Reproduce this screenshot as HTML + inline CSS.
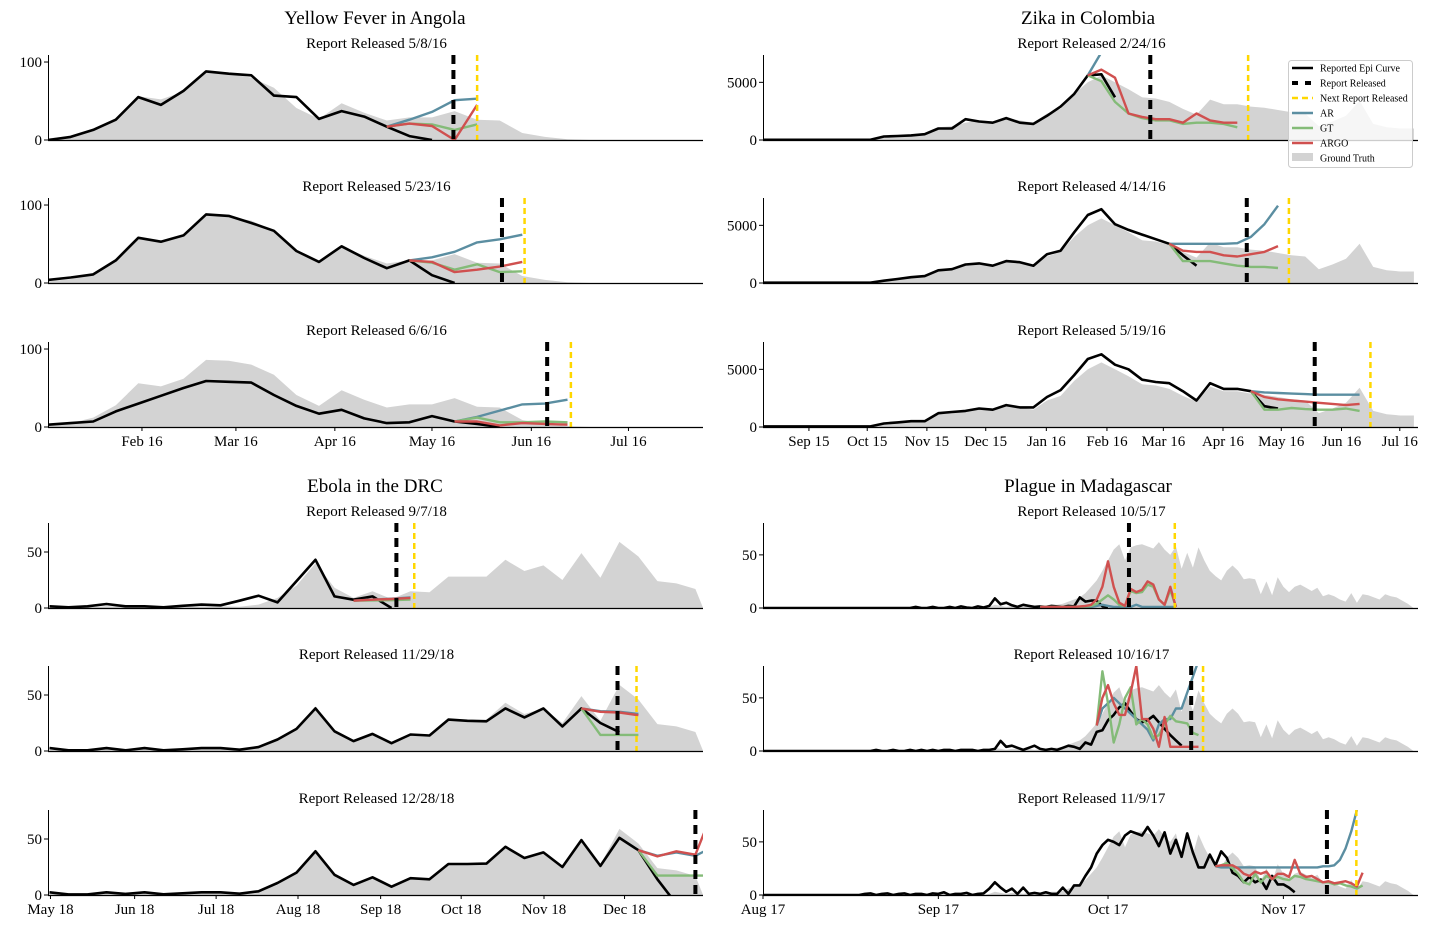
<!DOCTYPE html>
<html><head><meta charset="utf-8"><title>Epidemic forecasts</title>
<style>
html,body{margin:0;padding:0;background:#fff;}
svg{display:block;font-family:"Liberation Serif","DejaVu Serif",serif;}
</style></head>
<body>
<svg id="chart" width="1440" height="936" viewBox="0 0 1440 936" xmlns="http://www.w3.org/2000/svg">
<text x="375" y="24" font-size="19" text-anchor="middle">Yellow Fever in Angola</text>
<text x="1088" y="24" font-size="19" text-anchor="middle">Zika in Colombia</text>
<text x="375" y="492" font-size="19" text-anchor="middle">Ebola in the DRC</text>
<text x="1088" y="492" font-size="19" text-anchor="middle">Plague in Madagascar</text>
<g id="panels"></g>
<g>
<rect x="1288.5" y="60.5" width="124" height="107" rx="3" fill="#fff" fill-opacity="0.8" stroke="#ccc"/>
<line x1="1292" y1="68" x2="1313" y2="68" stroke="#000" stroke-width="2.5"/>
<text x="1320" y="71.5" font-size="10">Reported Epi Curve</text>
<line x1="1292" y1="83" x2="1313" y2="83" stroke="#000" stroke-width="4" stroke-dasharray="6 7"/>
<text x="1320" y="86.5" font-size="10">Report Released</text>
<line x1="1292" y1="98" x2="1313" y2="98" stroke="#ffd700" stroke-width="2.5" stroke-dasharray="6 4"/>
<text x="1320" y="101.5" font-size="10">Next Report Released</text>
<line x1="1292" y1="113" x2="1313" y2="113" stroke="#5b8ea1" stroke-width="2.5"/>
<text x="1320" y="116.5" font-size="10">AR</text>
<line x1="1292" y1="128" x2="1313" y2="128" stroke="#84bb78" stroke-width="2.5"/>
<text x="1320" y="131.5" font-size="10">GT</text>
<line x1="1292" y1="143" x2="1313" y2="143" stroke="#d0504f" stroke-width="2.5"/>
<text x="1320" y="146.5" font-size="10">ARGO</text>
<rect x="1292" y="153" width="21" height="8" fill="#d3d3d3"/>
<text x="1320" y="161.5" font-size="10">Ground Truth</text>
</g>
</svg>
<script>
// ---------- Yellow fever (weekly index) ----------
const yfGround = [2,5,12,28,56,52,62,86,85,80,67,41,27,47,35,25,29,29,37,26,25,9,4,1,0,0,0,0,0,0];
const yfRep1 = [0,4,13,26,55,45,63,88,85,83,57,55,27,37,30,17,5,0];
const yfRep2 = [4,7,11,29,58,53,61,88,86,77,67,41,27,47,32,19,29,10,0];
const yfRep3 = [3,5,7,20,30,40,50,59,58,57,41,27,17,22,11,5,6,14,7,4,0];
const yfStart = [15,16,18];
const yfAR1 = [17,26,36,51,53], yfGT1 = [17,21,20,13,20], yfARGO1 = [17,21,18,0,45];
const yfAR2 = [29,33,40,52,56,62], yfGT2 = [29,26,17,24,14,15], yfARGO2 = [29,27,14,17,21,27];
const yfAR3 = [7,13,21,29,30,35], yfGT3 = [7,12,6,6,7,6], yfARGO3 = [7,7,2,5,4,3];
const yfReport = [17.95,20.1,22.1], yfNext = [19.0,21.1,23.15];
const yfTickPos = [4.16,8.32,12.7,17.0,21.4,25.7];
const yfTickLabels = ["Feb 16","Mar 16","Apr 16","May 16","Jun 16","Jul 16"];

// ---------- Zika (weekly index, thousands of cases) ----------
const zkGround = [0.02,0.02,0.02,0.02,0.03,0.05,0.05,0.05,0.08,0.2,0.4,0.5,0.6,1.1,1.2,1.5,1.7,1.6,1.9,1.7,1.5,2.3,2.7,4.0,5.0,5.6,5.0,4.4,3.7,3.6,3.3,2.7,2.2,3.5,3.1,3.1,2.9,2.8,2.6,2.4,2.3,1.2,1.6,2.1,3.4,1.4,1.1,1.0,1.0];
const zkRep1 = [0.02,0.02,0.02,0.02,0.02,0.02,0.02,0.02,0.02,0.3,0.35,0.4,0.5,1.0,1.0,1.8,1.6,1.5,1.9,1.5,1.4,2.1,2.9,4.0,5.6,5.7,3.7];
const zkRep2 = [0.03,0.03,0.03,0.03,0.03,0.03,0.03,0.03,0.03,0.2,0.35,0.5,0.6,1.1,1.2,1.6,1.7,1.5,1.9,1.8,1.5,2.5,2.8,4.4,5.9,6.4,5.1,4.6,4.2,3.8,3.4,2.4,1.5];
const zkRep3 = [0.05,0.05,0.05,0.05,0.05,0.05,0.05,0.05,0.05,0.3,0.4,0.5,0.5,1.2,1.3,1.4,1.6,1.5,1.9,1.7,1.7,2.6,3.2,4.5,5.9,6.3,5.4,5.0,4.1,3.9,3.8,3.1,2.3,3.8,3.3,3.3,3.1,1.8,1.6];
const zkStart = [24,30,36];
const zkAR1 = [5.6,7.6,9.5], zkGT1 = [5.6,5.1,3.3,2.3,1.9,1.7,1.7,1.4,1.5,1.5,1.4,1.1], zkARGO1 = [5.6,6.1,5.4,2.3,2.0,1.8,1.8,1.5,2.3,1.7,1.5,1.5];
const zkAR2 = [3.4,3.4,3.4,3.4,3.4,3.45,4.0,5.1,6.7], zkGT2 = [3.4,1.9,1.9,1.9,1.7,1.5,1.4,1.4,1.3], zkARGO2 = [3.4,2.8,2.7,2.7,2.4,2.3,2.5,2.7,3.2];
const zkAR3 = [3.1,3.0,2.95,2.9,2.85,2.8,2.8,2.8,2.8], zkGT3 = [3.1,1.5,1.5,1.65,1.55,1.5,1.5,1.6,1.4], zkARGO3 = [3.1,2.6,2.4,2.3,2.2,2.1,2.0,1.9,2.0];
const zkReport = [28.6,35.7,40.7], zkNext = [35.8,38.8,44.8];
const zkTickPos = [3.48,7.77,12.16,16.49,20.95,25.41,29.56,33.95,38.24,42.67,46.96];
const zkTickLabels = ["Sep 15","Oct 15","Nov 15","Dec 15","Jan 16","Feb 16","Mar 16","Apr 16","May 16","Jun 16","Jul 16"];

// ---------- Ebola (weekly index) ----------
const ebGround = [1,0.5,0.5,1.5,1,1.5,0.5,1,1.5,1.5,1.2,3,9,20,40,18,9,15,8,15,14,28,28,28,43,33,38,25,49,27,59,46,24,22,17,-25];
const ebRep1 = [1.5,0.6,1.5,3.6,1.5,1.5,0.6,2,3,2.4,6.5,11,5,24,43,10.4,7.4,10.4,0];
const ebRep2 = [2.6,0.6,0.6,2.6,0.6,2.6,0.6,1.5,2.6,2.6,1.2,3.5,10.3,19.7,38,17.6,8.8,15.3,7,14.7,13.8,28,27,26.5,38,30,38,22,38,25,16.8];
const ebRep3 = [2.4,0.5,0.5,2.4,1,2.4,0.6,1.5,2.4,2.4,1.2,3.3,10.7,20,39,18,9,15.8,7.4,15,14,27.7,27.7,28,43,33,38,25,49,26,51,40,14,-8];
const ebStart = [16,28,31];
const ebAR1 = [6.5,7.5,8.3,9.5], ebGT1 = [6.5,6.8,7,7.5], ebARGO1 = [6.5,7.4,8,9];
const ebAR2 = [38,35.5,35,33], ebGT2 = [38,14.4,14.4,14.4], ebARGO2 = [38,35,34.4,32];
const ebAR3 = [40,35,38,35,43.7], ebGT3 = [40,17.3,17.3,17.3,17.3], ebARGO3 = [40,34.5,39,36,78.5];
const ebReport = [18.26,29.9,34.0], ebNext = [19.2,30.9,null];
const ebTickPos = [0.05,4.48,8.77,13.08,17.43,21.67,26.03,30.27];
const ebTickLabels = ["May 18","Jun 18","Jul 18","Aug 18","Sep 18","Oct 18","Nov 18","Dec 18"];

// ---------- Plague (daily index from Aug 1 2017) ----------
const pgGround = [0,0,0,0,0,0,0,0,0,0,0,0,0,0,0,0,0,0,0,0,0,0,0,0,0,0,0,0,0,0,
1,0,1,0,1,1,0,1,1,0,1,3,2,1,2,2,1,2,1,2,2,3,
3,4,6,8,10,14,20,26,35,45,55,60,45,57,59,60,58,56,62,55,50,58,37,52,38,57,45,35,30,26,35,40,35,27,28,27,13,25,12,29,20,15,20,22,19,16,19,11,13,11,8,6,14,5,13,12,10,8,13,11,10,7,4,0];
const pgRep1 = [0,0,0,0,0,0,0,0,0,0,0,0,0,0,0,0,0,0,0,0,0,0,0,0,0,0,0,
1,0,0,1,0,0,1,0,1.5,0.5,0,1.5,0.5,2,9,3.5,5,2.5,1,3,2,1,1.5,1,2,1.5,1,2,1.5,10,6,7,7,1.5,1];
const pgRep2 = [0,0,0,0,0,0,0,0,0,0,0,0,0,0,0,0,0,0,0,0,
1,0,0,1,0,0,1,0,1,0,1,0,1,1,0,1,1,1,0,1,1,2,9.5,4,5,3,1,3,5,2,1,2,1,3,5,4,2,8,6,18,19.5,29,34,41,45,37,30,27,29,33,27,21,15,10,5];
const pgRep3 = [0,0,0,0,0,0,0,0,0,0,0,0,0,0,0,0,0,0,
1,1.5,0,1,1.5,0,1,1.5,0,1,1,0,1.5,1,2.5,0,1,1,2,0,1,1.5,6,
12,7,3,6,1,7,1,2,1,2.5,1,1,7,1,9,9,18,26,39,47,52,50,47,56,60,58,56,64,56,46,59,39,52,36,58,40,26,26,38,28,41,35,21,18,12,17,12,14.5,5.7,18,10,10,7,2.5];
const pgStart = [49,59,80];
const pgAR1 = [1,1,1,1,1,1,1,1,1,1,2,3,2,1,1,1,1,3,1,1,1,1,1,1,1];
const pgGT1 = [1,1,1,1,1,1,1,1,1.5,2,4,8,12,8,3,2,16,14,15,22,20,8,3,17,1];
const pgARGO1 = [1,1,1,1,1,1,1,1.5,2,3,8,20,44,20,5,2,18,15,17,25,22,8,3,20,1];
const pgAR2 = [24,40,45,50,45,40,35,30,25,20,10,25,30,30,40,40,55,70,85];
const pgGT2 = [24,75,45,8,25,50,60,25,30,25,12,15,25,33,28,27,26,17,15];
const pgARGO2 = [24,50,62,45,34,34,55,80,30,30,21,4,32,4,4,4,4,4,4];
const pgAR3 = [27,26,26,26,26,26,26,26,26,26,26,26,26,26,26,26,26,26,26,27,27,28,33,44,60,80];
const pgGT3 = [27,28,30,25,20,12,10,20,12,18,15,17,15,14,18,17,15,14,13,12,12,10,11,9,8,6,9];
const pgARGO3 = [27,28,28,28,25,20,18,22,20,22,15,20,20,17,33,20,17,18,15,12,13,11,12,13,11,8,21];
const pgReport = [64.7,75.7,99.7], pgNext = [72.8,77.8,104.9];
const pgTickPos = [0,31,61,92];
const pgTickLabels = ["Aug 17","Sep 17","Oct 17","Nov 17"];

const NS = "http://www.w3.org/2000/svg";
const root = document.getElementById("panels");
function mk(tag, attrs, parent){
  const e = document.createElementNS(NS, tag);
  for (const k in attrs) e.setAttribute(k, attrs[k]);
  (parent||root).appendChild(e);
  return e;
}
const COLORS = {ar:"#5b8ea1", gt:"#84bb78", argo:"#d0504f"};
const subtitles = {
  yf:["Report Released 5/8/16","Report Released 5/23/16","Report Released 6/6/16"],
  zk:["Report Released 2/24/16","Report Released 4/14/16","Report Released 5/19/16"],
  eb:["Report Released 9/7/18","Report Released 11/29/18","Report Released 12/28/18"],
  pg:["Report Released 10/5/17","Report Released 10/16/17","Report Released 11/9/17"]
};
const diseases = [
  {key:"yf", x0:48, x1:703, tops:[55,198,342], xd:[0,29], ymax:109, yt:[0,100], ytl:["0","100"],
   ground:yfGround, rep:[yfRep1,yfRep2,yfRep3], start:yfStart, ar:[yfAR1,yfAR2,yfAR3], gt:[yfGT1,yfGT2,yfGT3], argo:[yfARGO1,yfARGO2,yfARGO3],
   report:yfReport, next:yfNext, tp:yfTickPos, tl:yfTickLabels},
  {key:"zk", x0:763, x1:1418, tops:[55,198,342], xd:[0.1,48.3], ymax:7.37, yt:[0,5], ytl:["0","5000"],
   ground:zkGround, rep:[zkRep1,zkRep2,zkRep3], start:zkStart, ar:[zkAR1,zkAR2,zkAR3], gt:[zkGT1,zkGT2,zkGT3], argo:[zkARGO1,zkARGO2,zkARGO3],
   report:zkReport, next:zkNext, tp:zkTickPos, tl:zkTickLabels},
  {key:"eb", x0:48, x1:703, tops:[523,666,810], xd:[-0.08,34.4], ymax:75.9, yt:[0,50], ytl:["0","50"],
   ground:ebGround, rep:[ebRep1,ebRep2,ebRep3], start:ebStart, ar:[ebAR1,ebAR2,ebAR3], gt:[ebGT1,ebGT2,ebGT3], argo:[ebARGO1,ebARGO2,ebARGO3],
   report:ebReport, next:ebNext, tp:ebTickPos, tl:ebTickLabels},
  {key:"pg", x0:763, x1:1418, tops:[523,666,810], xd:[0,115.8], ymax:80, yt:[0,50], ytl:["0","50"],
   ground:pgGround, rep:[pgRep1,pgRep2,pgRep3], start:pgStart, ar:[pgAR1,pgAR2,pgAR3], gt:[pgGT1,pgGT2,pgGT3], argo:[pgARGO1,pgARGO2,pgARGO3],
   report:pgReport, next:pgNext, tp:pgTickPos, tl:pgTickLabels}
];
const PH = 85;
let clipId = 0;
diseases.forEach(d => {
  d.tops.forEach((top, p) => {
    const base = top + PH;
    const xs = v => d.x0 + (v - d.xd[0]) / (d.xd[1] - d.xd[0]) * (d.x1 - d.x0);
    const ys = v => base - v / d.ymax * PH;
    const g = mk("g", {});
    
    
    const cid = "clip" + (clipId++);
    const cp = mk("clipPath", {id:cid}, g);
    mk("rect", {x:d.x0, y:top, width:d.x1-d.x0, height:PH+1}, cp);
    const plot = mk("g", {"clip-path":"url(#"+cid+")"}, g);
    const st = mk("text", {x:(d.x0+d.x1)/2+1, y:top-7, "font-size":15, "text-anchor":"middle"}, g);
    st.textContent = subtitles[d.key][p];
    
    
    let pts = d.ground.map((v,i) => xs(i).toFixed(1)+","+ys(v).toFixed(1));
    pts.push(xs(d.ground.length-1).toFixed(1)+","+base, xs(0).toFixed(1)+","+base);
    const area = mk("polygon", {points:pts.join(" "), fill:"#d3d3d3"}, plot);
    
    
    const line = (arr, off, color, w, name) => {
      const el = mk("polyline", {points:arr.map((v,i)=>xs(i+off).toFixed(1)+","+ys(v).toFixed(1)).join(" "),
        fill:"none", stroke:color, "stroke-width":w, "stroke-linejoin":"round"}, plot);
      
      
    };
    line(d.rep[p], 0, "#000", 2.6, 'reported-epi-curve');
    line(d.ar[p], d.start[p], COLORS.ar, 2.4, 'ar-forecast');
    line(d.gt[p], d.start[p], COLORS.gt, 2.4, 'gt-forecast');
    line(d.argo[p], d.start[p], COLORS.argo, 2.4, 'argo-forecast');
    const rl = mk("line", {x1:xs(d.report[p]), x2:xs(d.report[p]), y1:top, y2:base, stroke:"#000", "stroke-width":4, "stroke-dasharray":"9 6"}, g);
    
    
    if (d.next[p] !== null) {
      const nl = mk("line", {x1:xs(d.next[p]), x2:xs(d.next[p]), y1:top, y2:base, stroke:"#ffd700", "stroke-width":2.5, "stroke-dasharray":"6 4"}, g);
      
      
    }
    const ya = mk("line", {x1:d.x0+0.5, x2:d.x0+0.5, y1:top, y2:base, stroke:"#000", "stroke-width":1}, g);
    
    
    const xa = mk("line", {x1:d.x0, x2:d.x1, y1:base+0.5, y2:base+0.5, stroke:"#000", "stroke-width":1.2}, g);
    
    
    d.yt.forEach((v,k) => {
      const y = ys(v);
      mk("line", {x1:d.x0-4, x2:d.x0, y1:y, y2:y, stroke:"#000", "stroke-width":1}, g);
      const t = mk("text", {x:d.x0-6, y:y+5, "font-size":15, "text-anchor":"end"}, g);
      t.textContent = d.ytl[k];
      
      
    });
    if (p === 2) {
      d.tp.forEach((v,k) => {
        const x = xs(v);
        mk("line", {x1:x, x2:x, y1:base, y2:base+4, stroke:"#000", "stroke-width":1}, g);
        const t = mk("text", {x:x, y:base+19, "font-size":15, "text-anchor":"middle"}, g);
        t.textContent = d.tl[k];
        
        
      });
    }
  });
});
</script>
</body></html>
